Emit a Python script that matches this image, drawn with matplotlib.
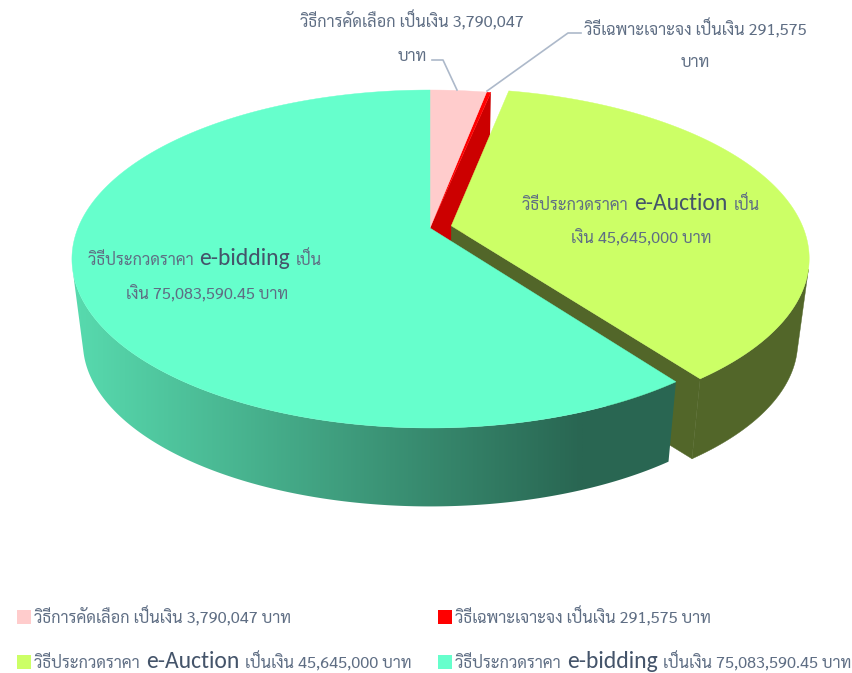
import numpy as np
import matplotlib
matplotlib.use("Agg")
import matplotlib.pyplot as plt
from matplotlib.patches import Polygon, Rectangle
from matplotlib.colors import LinearSegmentedColormap
from matplotlib.font_manager import FontProperties

# datos
valores = [3790047, 291575, 45645000, 75083590.45]
colores = ["#FFCCCC", "#FF0000", "#CCFF66", "#66FFCC"]
explosion = [0, 0, 0.062, 0]

etiqueta_selectivo = [[("วิธีการคัดเลือก เป็นเงิน 3,790,047", 0)], [("บาท", 0)]]
etiqueta_especifico = [[("วิธีเฉพาะเจาะจง เป็นเงิน 291,575", 0)], [("บาท", 0)]]
etiqueta_auction = [[("วิธีประกวดราคา", 0), ("e-Auction", 1), ("เป็น", 0)],
                    [("เงิน 45,645,000 บาท", 0)]]
etiqueta_bidding = [[("วิธีประกวดราคา", 0), ("e-bidding", 1), ("เป็น", 0)],
                    [("เงิน 75,083,590.45 บาท", 0)]]

leyenda = [[("วิธีการคัดเลือก เป็นเงิน 3,790,047 บาท", 0)],
           [("วิธีเฉพาะเจาะจง เป็นเงิน 291,575 บาท", 0)],
           [("วิธีประกวดราคา", 0), ("e-Auction", 1), ("เป็นเงิน 45,645,000 บาท", 0)],
           [("วิธีประกวดราคา", 0), ("e-bidding", 1), ("เป็นเงิน 75,083,590.45 บาท", 0)]]

# perspectiva del pastel
CX, CY = 430, 228
A, B, K = 352, 163.3, 0.1834
VX, VY = 432, 3000
T = 0.0305

fuente_thai = FontProperties(family=["Sarabun", "DejaVu Sans"], weight="regular", size=11.75)
fuente_latin = FontProperties(family=["Carlito", "Lato"], size=17)
TEXTO = "#5F6E84"
TEXTO_LATIN = "#44546A"


def proyectar(angulos, off=(0, 0)):
    # angulos en grados, horario desde arriba
    a = np.radians(angulos)
    u = np.sin(a) + off[0]
    v = -np.cos(a) + off[1]
    w = 1 - K * v
    return CX + A * u / w, CY + B * v / w


def abajo(x, y):
    return x + T * (VX - x), y + T * (VY - y)


def apice(off):
    w = 1 - K * off[1]
    return CX + A * off[0] / w, CY + B * off[1] / w


def arco(a0, a1, off=(0, 0)):
    return proyectar(np.linspace(a0, a1, 300), off)


def silueta(a0, a1, off, lado):
    # angulo donde la pared toca el contorno visto desde el punto de fuga
    ang = np.linspace(a0, a1, 600)
    x, y = proyectar(ang, off)
    pend = (x - VX) / (VY - y)
    return ang[np.argmax(pend * lado)]


fig = plt.figure(figsize=(8.53, 6.73), dpi=100)
ax = fig.add_axes([0, 0, 1, 1])
ax.axis("off")

# angulos a partir de los valores
total = sum(valores)
bordes = np.concatenate([[0], np.cumsum(valores) / total * 360])
offs = []
for i in range(4):
    medio = np.radians((bordes[i] + bordes[i + 1]) / 2)
    offs.append((explosion[i] * np.sin(medio), -explosion[i] * np.cos(medio)))

# pared del sector rojo, visible en el hueco
x, y = proyectar(np.array([bordes[2]]))
x0, y0 = apice(offs[1])
xb, yb = abajo(x[0], y[0])
xc, yc = abajo(x0, y0)
ax.add_patch(Polygon([(x0, y0), (x[0], y[0]), (xb, yb), (xc, yc)], fc="#CC0000", ec="none", zorder=2))

# paredes del sector e-Auction
a_ini = silueta(bordes[2], bordes[3], offs[2], 1)
x, y = arco(a_ini, bordes[3], offs[2])
xb, yb = abajo(x, y)
ax.add_patch(Polygon(np.c_[np.r_[x, xb[::-1]], np.r_[y, yb[::-1]]], fc="#526629", ec="#526629", lw=0.3, zorder=3))
x0, y0 = apice(offs[2])
xc, yc = abajo(x0, y0)
ax.add_patch(Polygon([(x0, y0), (x[-1], y[-1]), (xb[-1], yb[-1]), (xc, yc)], fc="#526629", ec="#526629", lw=0.3, zorder=3))

# pared del sector e-bidding con degradado
a_fin = silueta(bordes[3], bordes[4], offs[3], -1)
x, y = arco(bordes[3], a_fin, offs[3])
xb, yb = abajo(x, y)
pared = Polygon(np.c_[np.r_[x, xb[::-1]], np.r_[y, yb[::-1]]], fc="none", ec="none", zorder=4)
ax.add_patch(pared)
cmap = LinearSegmentedColormap.from_list("pared", ["#57D9AD", "#296652"])
img = ax.imshow(np.linspace(0, 1, 256).reshape(1, -1), cmap=cmap, extent=[80, 583, 520, 240],
                aspect="auto", zorder=4)
img.set_clip_path(pared)
# fuera del degradado el color sigue igual
ax.add_patch(Rectangle((60, 240), 20, 280, fc="#57D9AD", ec="none", zorder=4, clip_path=pared))
ax.add_patch(Rectangle((583, 240), 120, 280, fc="#296652", ec="none", zorder=4, clip_path=pared))

# caras superiores
for i in range(4):
    x, y = arco(bordes[i], bordes[i + 1], offs[i])
    x0, y0 = apice(offs[i])
    ax.add_patch(Polygon(np.c_[np.r_[x0, x], np.r_[y0, y]], fc=colores[i], ec=colores[i], lw=0.3,
                         zorder=5 if i != 1 else 2.5))

ax.set_xlim(0, 853)
ax.set_ylim(673, 0)

# lineas guia
ax.plot([457, 443, 432], [90, 60, 60], color="#ADB9CA", lw=1.2, zorder=6)
ax.plot([487, 568, 581], [91, 33, 33], color="#ADB9CA", lw=1.2, zorder=6)

fig.canvas.draw()
rend = fig.canvas.get_renderer()


def linea(x, y, trozos, centro=False):
    # escribe los trozos seguidos sobre la misma linea base
    objetos = []
    for texto, grande in trozos:
        if grande:
            t = ax.text(x, y, texto, fontproperties=fuente_latin, color=TEXTO_LATIN, va="baseline", zorder=7)
        else:
            t = ax.text(x, y, texto, fontproperties=fuente_thai, color=TEXTO, va="baseline", zorder=7)
        objetos.append(t)
    anchos = [t.get_window_extent(rend).width for t in objetos]
    sep = 6
    if centro:
        x = x - (sum(anchos) + sep * (len(anchos) - 1)) / 2
    for t, w in zip(objetos, anchos):
        t.set_x(x)
        x += w + sep


linea(412, 27, etiqueta_selectivo[0], True)
linea(412, 61, etiqueta_selectivo[1], True)
linea(695, 35, etiqueta_especifico[0], True)
linea(695, 67, etiqueta_especifico[1], True)
linea(641, 210, etiqueta_auction[0], True)
linea(641, 243, etiqueta_auction[1], True)
linea(205, 265, etiqueta_bidding[0], True)
linea(207, 299, etiqueta_bidding[1], True)

# leyenda
pos_leyenda = [(17, 617), (438, 617), (17, 662), (438, 662)]
for (lx, ly), c, trozos in zip(pos_leyenda, colores, leyenda):
    ax.add_patch(Rectangle((lx, ly - 7), 14, 14, fc=c, ec="none", zorder=6))
    linea(lx + 17, ly + 6, trozos)

fig.savefig("out.png", dpi=100)
